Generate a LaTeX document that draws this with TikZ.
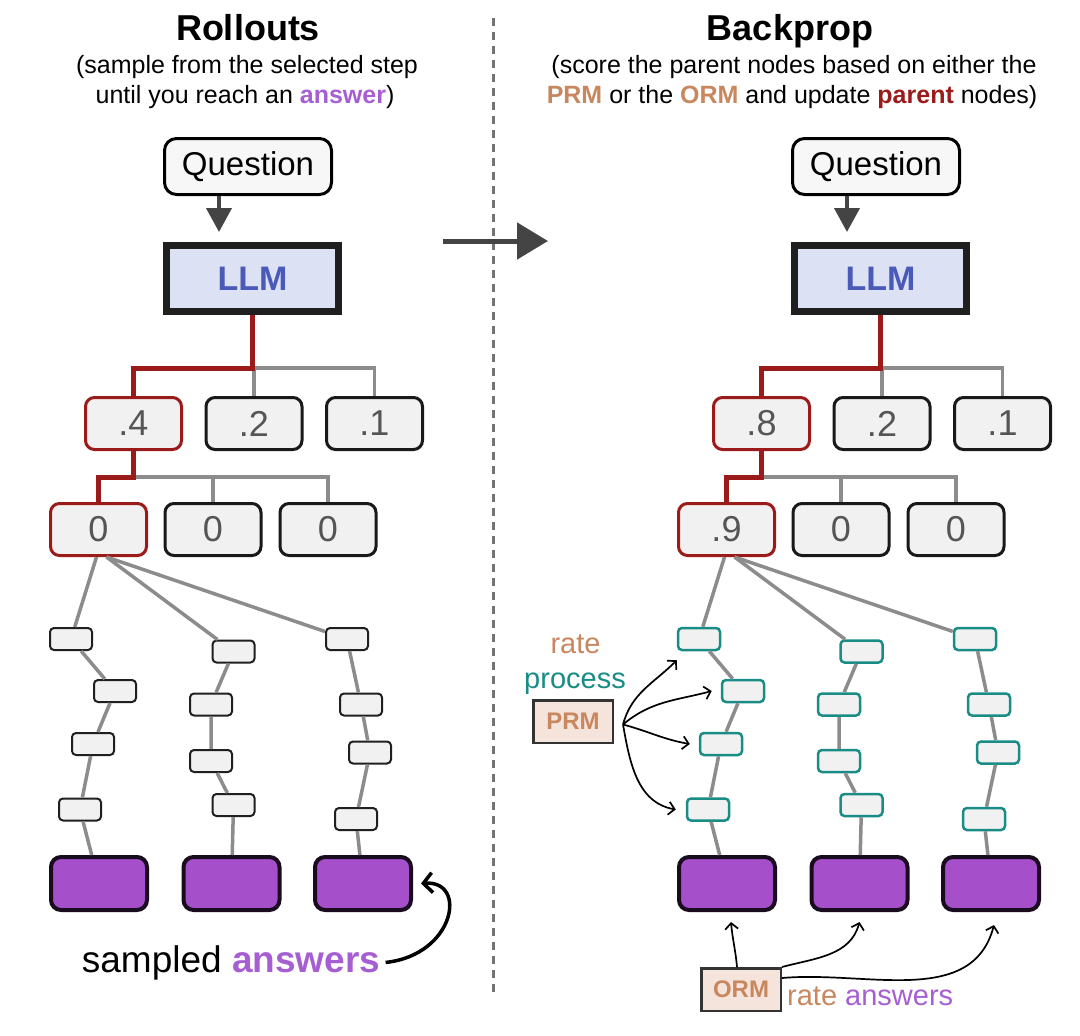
\documentclass[tikz,border=0pt]{standalone}
\usepackage{fontspec}
\setmainfont{Liberation Sans}
\usetikzlibrary{arrows.meta,calc}

\definecolor{pick}{HTML}{9B1B1B}
\definecolor{ans}{HTML}{A65FD3}
\definecolor{ansfill}{HTML}{A54FCB}
\definecolor{rmtan}{HTML}{C8875F}
\definecolor{procteal}{HTML}{1A8C86}
\definecolor{llmfill}{HTML}{DDE1F4}
\definecolor{llmblue}{HTML}{4A5AB8}
\definecolor{linegray}{HTML}{8C8C8C}
\definecolor{boxfill}{HTML}{F1F1F1}
\definecolor{numgray}{HTML}{555555}
\definecolor{rmfill}{HTML}{F5E4DC}
\definecolor{arrowgray}{HTML}{444444}

\tikzset{
  title/.style={anchor=base, inner sep=0pt, font=\fontsize{36}{40}\selectfont\bfseries},
  subtitle/.style={anchor=base, inner sep=0pt, font=\fontsize{25}{30}\selectfont},
  lab/.style={anchor=base, inner sep=0pt, font=\fontsize{29}{34}\selectfont},
  qbox/.style={draw=black, line width=3pt, rounded corners=12pt, fill=white!97!black,
    minimum width=167pt, minimum height=56pt, inner sep=0pt, font=\fontsize{33}{40}\selectfont},
  llmbox/.style={draw=black!88, line width=7pt, fill=llmfill, text=llmblue,
    minimum width=172pt, minimum height=66pt, inner sep=0pt, font=\fontsize{34}{40}\selectfont\bfseries},
  valbox/.style={draw=black!90, line width=3pt, rounded corners=9pt, fill=boxfill, text=numgray,
    minimum width=96pt, minimum height=52pt, inner sep=0pt, font=\fontsize{36}{40}\selectfont},
  picked/.style={draw=pick},
  stepbox/.style={draw=black!88, line width=2pt, rounded corners=4pt, fill=boxfill,
    minimum width=42pt, minimum height=22pt, inner sep=0pt},
  ratedstep/.style={stepbox, draw=procteal, line width=2.5pt},
  answerbox/.style={draw=black!85!ansfill, line width=4pt, rounded corners=10pt, fill=ansfill,
    minimum width=96pt, minimum height=53pt, inner sep=0pt},
  rmbox/.style={draw=black!80, line width=2.5pt, fill=rmfill, text=rmtan,
    minimum width=79.5pt, minimum height=42.5pt, inner sep=0pt, font=\fontsize{24}{30}\selectfont\bfseries},
  treeline/.style={draw=linegray, line width=3.5pt},
  pickline/.style={draw=pick, line width=5pt},
  branch/.style={draw=linegray, line width=3.5pt},
  qarrow/.style={draw=arrowgray, line width=4pt, -{Triangle[width=25pt,length=24pt]}},
  panelarrow/.style={draw=arrowgray, line width=5pt, -{Triangle[width=36pt,length=31pt]}},
  callout/.style={draw=black, line width=3.5pt, -{Straight Barb[length=9pt,width=20pt]}},
  rmarrow/.style={draw=black, line width=1.7pt, -{Straight Barb[length=6pt,width=13pt]}},
  divider/.style={draw=black!55, line width=3pt, dash pattern=on 8pt off 6pt}
}

% #1 name prefix, #2 shift, #3 picked score, #4 picked child score, #5 step style
\newcommand{\searchtree}[5]{%
  \begin{scope}[xshift=#2]
    \node[qbox] (#1q) at (248,-166.5) {Question};
    \node[llmbox] (#1llm) at (252.5,-278.5) {LLM};
    \draw[qarrow] ([xshift=-29pt]#1q.south) -- ([xshift=-33.5pt,yshift=10pt]#1llm.north);

    \node[valbox,picked] (#1r1) at (133.5,-423.5) {#3};
    \node[valbox] (#1r2) at (254,-423.5) {.2};
    \node[valbox] (#1r3) at (374.5,-423.5) {.1};
    \node[valbox,picked] (#1s1) at (98.5,-529.5) {#4};
    \node[valbox] (#1s2) at (213,-529.5) {0};
    \node[valbox] (#1s3) at (328,-529.5) {0};

    \coordinate (#1j1) at (#1llm.south |- 0,-368);
    \draw[treeline] (#1j1) -| (#1r3.north);
    \draw[treeline] (#1r2.north) |- (#1j1);
    \draw[pickline] (#1llm.south) -- (#1j1) -| (#1r1.north);

    \coordinate (#1j2) at (#1r1.south |- 0,-477);
    \draw[treeline] (#1j2) -| (#1s3.north);
    \draw[treeline] (#1s2.north) |- (#1j2);
    \draw[pickline] (#1r1.south) -- (#1j2) -| (#1s1.north);

    \foreach \col/\ax in {1/99,2/231.5,3/363}
      \node[answerbox] (#1a\col) at (\ax,-883.5) {};
    \foreach \col/\pos/\px/\py in {1/1/71/639, 1/2/115/691, 1/3/93/744, 1/4/80/809.5,
        2/1/233.5/651.5, 2/2/211/704.5, 2/3/211/761, 2/4/233.5/805,
        3/1/347/639, 3/2/361/704.5, 3/3/370/752.5, 3/4/356/819}
      \node[#5] (#1b\col\pos) at (\px,-\py) {};

    \draw[branch] ([xshift=-2pt]#1s1.south) -- (#1b11);
    \draw[branch] ([xshift=8pt]#1s1.south) -- (#1b21);
    \draw[branch] ([xshift=8pt]#1s1.south) -- (#1b31);
    \foreach \col in {1,2,3}
      \draw[branch] (#1b\col1) -- (#1b\col2) -- (#1b\col3) -- (#1b\col4) -- (#1a\col);
  \end{scope}}

\begin{document}
\begin{tikzpicture}[x=1pt,y=1pt]
  \fill[white] (0,0) rectangle (1080,-1036);
  \useasboundingbox (0,0) rectangle (1080,-1036);

  %%%%% ROLLOUTS %%%%%
  \node[title] (rolltitle) at (248,-40) {Rollouts};
  \node[subtitle] (rollsub1) at (247,-73) {(sample from the selected step};
  \node[subtitle] (rollsub2) at (245,-103) {until you reach an \textcolor{ans}{\bfseries answer})};

  \searchtree{L}{0pt}{.4}{0}{stepbox}

  \node[anchor=base, font=\fontsize{37}{40}\selectfont] (sampled) at (231,-972)
    {sampled \textcolor{ans}{\bfseries answers}};
  \draw[callout] ([xshift=2pt]sampled.east) .. controls (455,-955) and (468,-880) .. ([xshift=8pt]La3.east);

  \draw[divider] (493,-18) -- (493,-995);
  \draw[panelarrow] (443,-241) -- (548,-241);

  %%%%% BACKPROP %%%%%
  \node[title] (proptitle) at (790,-40) {Backprop};
  \node[subtitle] (propsub1) at (794,-73) {(score the parent nodes based on either the};
  \node[subtitle] (propsub2) at (792,-103) {\textcolor{rmtan}{\bfseries PRM} or the \textcolor{rmtan}{\bfseries ORM}
    and update \textcolor{pick}{\bfseries parent} nodes)};

  \searchtree{R}{628pt}{.8}{.9}{ratedstep}

  % process reward
  \node[lab, text=rmtan] (rate) at (575.5,-653) {rate};
  \node[lab, text=procteal] (process) at (575,-688) {process};
  \node[rmbox] (prm) at (573,-721.5) {PRM};
  \coordinate (prmtip) at ([xshift=9pt,yshift=-3pt]prm.east);
  \draw[rmarrow] (prmtip) to[out=75,in=225] ([yshift=-9pt]Rb11.south west);
  \draw[rmarrow] (prmtip) to[out=40,in=195] ([xshift=-9pt]Rb12.west);
  \draw[rmarrow] (prmtip) to[out=-15,in=170] ([xshift=-9pt]Rb13.west);
  \draw[rmarrow] (prmtip) to[out=-80,in=170] ([xshift=-10pt]Rb14.west);

  % outcome reward
  \node[rmbox] (orm) at (741,-989.5) {ORM};
  \node[lab, anchor=base west] (rateans) at (787,-1005)
    {\textcolor{rmtan}{rate} \textcolor{ans}{answers}};
  \draw[rmarrow] ([xshift=-4pt]orm.north) to[out=95,in=-85] ([xshift=4pt,yshift=-10pt]Ra1.south);
  \draw[rmarrow] (orm.north east) to[out=15,in=-105] ([yshift=-10pt]Ra2.south);
  \draw[rmarrow] ([yshift=-11pt]orm.north east) to[out=5,in=-105] ([xshift=3pt,yshift=-13pt]Ra3.south);
\end{tikzpicture}
\end{document}
